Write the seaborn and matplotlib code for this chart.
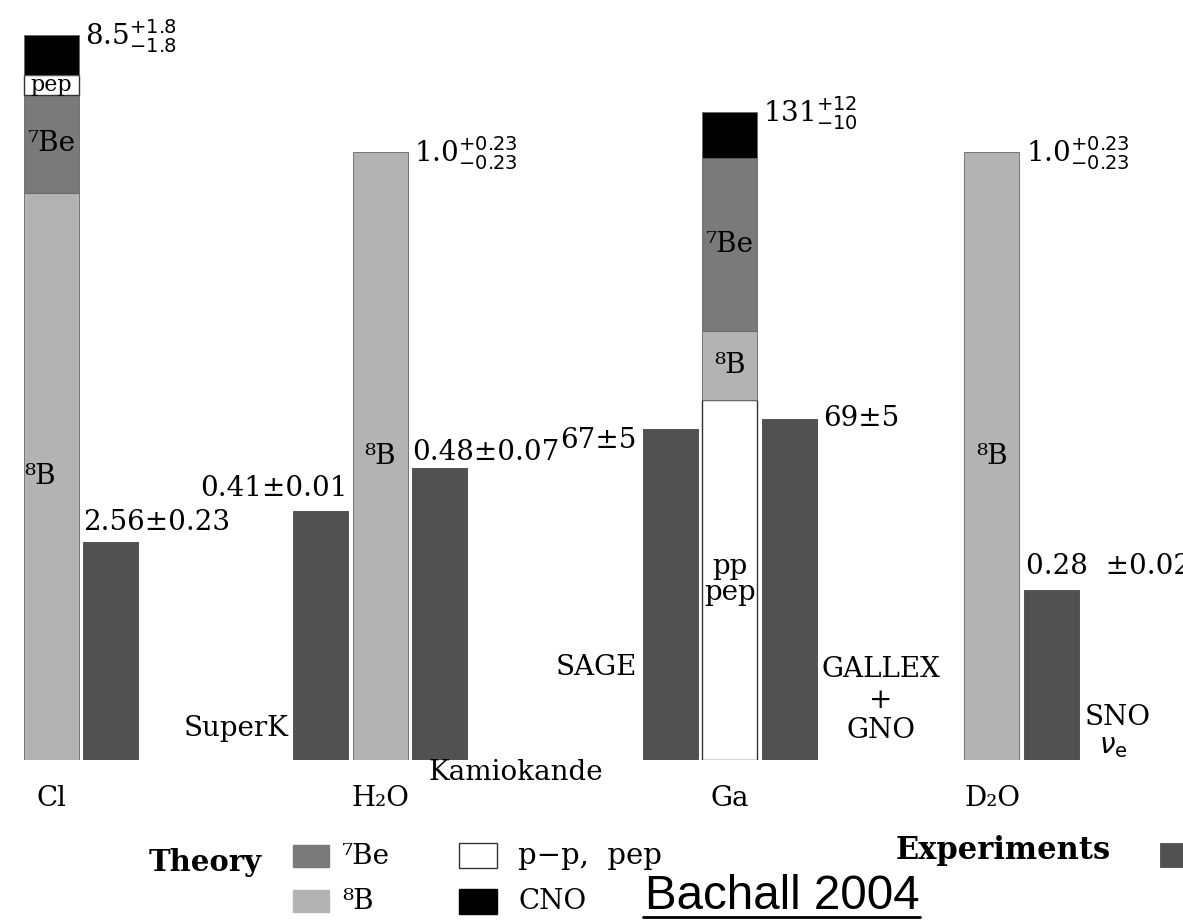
import matplotlib
matplotlib.use("Agg")
import matplotlib.pyplot as plt
import seaborn as sns
import numpy as np
from matplotlib import font_manager
from matplotlib.patches import Rectangle
from matplotlib.lines import Line2D

# ---------------- data ----------------
targets = ["Cl", "H₂O", "Ga", "D₂O"]
theory_totals = [8.5, 1.0, 131.0, 1.0]
theory_labels = ["8.5$^{+1.8}_{-1.8}$", "1.0$^{+0.23}_{-0.23}$",
                 "131$^{+12}_{-10}$", "1.0$^{+0.23}_{-0.23}$"]

# theory components, listed bottom -> top
cl_sources = ["8B", "7Be", "pep", "CNO"]
cl_values = [6.65, 1.15, 0.23, 0.47]
h2o_sources = ["8B"]
h2o_values = [1.0]
ga_sources = ["pp", "8B", "7Be", "CNO"]
ga_values = [72.8, 13.9, 35.0, 9.3]
d2o_sources = ["8B"]
d2o_values = [1.0]

# experiments
cl_exp_names = [""]
cl_exp_values = [2.56]
cl_exp_labels = ["2.56±0.23"]
h2o_exp_names = ["SuperK", "Kamiokande"]
h2o_exp_values = [0.41, 0.48]
h2o_exp_labels = ["0.41±0.01", "0.48±0.07"]
ga_exp_names = ["SAGE", "GALLEX\n+\nGNO"]
ga_exp_values = [67, 69]
ga_exp_labels = ["67±5", "69±5"]
d2o_exp_names = ["SNO"]
d2o_exp_values = [0.28]
d2o_exp_labels = ["0.28  ±0.02"]

source_names = {"8B": "⁸B", "7Be": "⁷Be", "pep": "pep", "pp": "pp\npep", "CNO": ""}

# ---------------- style ----------------
sns.set_theme(style="white")
plt.rcParams["font.family"] = ["DejaVu Serif"]
plt.rcParams["mathtext.fontset"] = "dejavusans"
plt.rcParams["text.color"] = "black"

colors = {"8B": "#b3b3b3", "7Be": "#7a7a7a", "pep": "#ffffff",
          "pp": "#ffffff", "CNO": "#000000"}
exp_color = "#515151"

W, H = 1183, 921
fig = plt.figure(figsize=(W / 100, H / 100), dpi=100)

base_px = 760                          # baseline (pixels from top)
theory_px = [725, 608, 648, 608]       # drawn height of each theory bar
theory_x = [51.5, 380.5, 730, 992]     # theory bar centres
slot = 59.5
bar_w = 55
exp_offsets = [[1], [-1, 1], [-1, 1], [1]]

groups = [
    (cl_sources, cl_values, cl_exp_names, cl_exp_values, cl_exp_labels),
    (h2o_sources, h2o_values, h2o_exp_names, h2o_exp_values, h2o_exp_labels),
    (ga_sources, ga_values, ga_exp_names, ga_exp_values, ga_exp_labels),
    (d2o_sources, d2o_values, d2o_exp_names, d2o_exp_values, d2o_exp_labels),
]

FS = 20

for gi, (srcs, vals, enames, evals, elabels) in enumerate(groups):
    ax = fig.add_axes([0, (H - base_px) / H, 1, theory_px[gi] / H])
    ax.set_facecolor("none")
    tx = theory_x[gi]
    # stacked theory bar
    bottom = 0.0
    for s, v in zip(srcs, vals):
        ec = "#333333" if s in ("pp", "pep") else "#666666"
        ax.bar(tx, v, bottom=bottom, width=bar_w, color=colors[s],
               edgecolor=ec, linewidth=1.0 if s in ("pp", "pep") else 0.6)
        lab = source_names[s]
        if lab:
            dx = -11 if (gi == 0 and s == "8B") else 0
            fs = 16 if s == "pep" else FS
            ax.annotate(lab, (tx, bottom + v / 2), xytext=(dx, 0),
                        textcoords="offset pixels", ha="center",
                        va="center", fontsize=fs, linespacing=0.95)
        bottom += v
    # experiment bars
    ex = [tx + o * slot for o in exp_offsets[gi]]
    uniq = np.unique(ex)
    native = np.min(np.diff(uniq)) if len(uniq) > 1 else 1.0
    sns.barplot(x=ex, y=evals, native_scale=True, width=bar_w / native,
                color=exp_color, saturation=1, edgecolor="#444444",
                linewidth=0.6, errorbar=None, ax=ax)
    ax.set_xlim(0, W)
    ax.set_ylim(0, theory_totals[gi])
    ax.axis("off")

    # theory total label
    ax.annotate(theory_labels[gi], (tx + bar_w / 2, theory_totals[gi]),
                xytext=(6, -1), textcoords="offset pixels", ha="left",
                va="center", fontsize=FS)

    # experiment value labels
    for k, (x, v, lab) in enumerate(zip(ex, evals, elabels)):
        if gi == 0:
            ax.annotate(lab, (x - bar_w / 2, v), xytext=(0, 19),
                        textcoords="offset pixels", ha="left", va="center", fontsize=FS)
        elif gi == 1 and k == 0:
            ax.annotate(lab, (x + bar_w / 2, v), xytext=(-1, 22),
                        textcoords="offset pixels", ha="right", va="center", fontsize=FS)
        elif gi == 1 and k == 1:
            ax.annotate(lab, (x - bar_w / 2, v), xytext=(0, 16),
                        textcoords="offset pixels", ha="left", va="center", fontsize=FS)
        elif gi == 2 and k == 0:
            ax.annotate(lab, (x - bar_w / 2, v), xytext=(-6, -12),
                        textcoords="offset pixels", ha="right", va="center", fontsize=FS)
        elif gi == 2 and k == 1:
            ax.annotate(lab, (x + bar_w / 2, v), xytext=(6, 0),
                        textcoords="offset pixels", ha="left", va="center", fontsize=FS)
        else:
            ax.annotate(lab, (x - bar_w / 2, v), xytext=(2, 23),
                        textcoords="offset pixels", ha="left", va="center", fontsize=FS)


def fx(x):
    return x / W


def fy(y):
    return 1 - y / H


# experiment names
fig.text(fx(288), fy(728), "SuperK", ha="right", va="center", fontsize=FS)
fig.text(fx(428), fy(772), "Kamiokande", ha="left", va="center", fontsize=FS)
fig.text(fx(637), fy(667), "SAGE", ha="right", va="center", fontsize=FS)
fig.text(fx(881), fy(700), "GALLEX\n+\nGNO", ha="center", va="center",
         fontsize=FS, linespacing=1.15)
fig.text(fx(1085), fy(717), "SNO", ha="left", va="center", fontsize=FS)
fig.text(fx(1099), fy(747), r"$\nu_{\rm e}$", ha="left", va="center", fontsize=FS)

# target (x-axis) labels
for t, x in zip(targets, theory_x):
    fig.text(fx(x), fy(798), t, ha="center", va="center", fontsize=FS)

# legend
fig.text(fx(262), fy(862), "Theory", ha="right", va="center",
         fontsize=21, fontweight="bold")
fig.text(fx(1111), fy(850), "Experiments", ha="right", va="center",
         fontsize=22, fontweight="bold")
legend_items = [(293, 845, "7Be", "⁷Be", 13, FS), (293, 890, "8B", "⁸B", 13, FS),
                (459, 843, "pp", "p−p,  pep", 21, 21), (459, 889, "CNO", "CNO", 21, FS)]
for x, y, key, lab, gap, fs in legend_items:
    ec = "#333333" if key == "pp" else colors[key]
    w, h = (36, 22) if key in ("7Be", "8B") else (38, 25)
    fig.add_artist(Rectangle((fx(x), fy(y + h)), w / W, h / H, transform=fig.transFigure,
                             facecolor=colors[key], edgecolor=ec, linewidth=1.0))
    fig.text(fx(x + w + gap), fy(y + h / 2), lab, ha="left", va="center", fontsize=fs)
fig.add_artist(Rectangle((fx(1160), fy(867)), 40 / W, 24 / H, transform=fig.transFigure,
                         facecolor=exp_color, edgecolor=exp_color, linewidth=0.6))

# title with underline (narrow sans if available)
installed = {f.name for f in font_manager.fontManager.ttflist}
if "Liberation Sans Narrow" in installed:
    title_fam, title_fs = ["Liberation Sans Narrow", "Liberation Sans"], 40
else:
    title_fam, title_fs = ["Liberation Sans", "DejaVu Sans"], 35
title = fig.text(fx(645), fy(909), "Bachall 2004", ha="left", va="baseline",
                 fontsize=title_fs, family=title_fam)
# fit title width to reference span
fig.canvas.draw()
bb = title.get_window_extent()
title.set_fontsize(title_fs * 275.0 / bb.width)
fig.add_artist(Line2D([fx(643), fx(920)], [fy(917), fy(917)],
                      transform=fig.transFigure, color="black", linewidth=2))

fig.savefig("out.png", dpi=100)
